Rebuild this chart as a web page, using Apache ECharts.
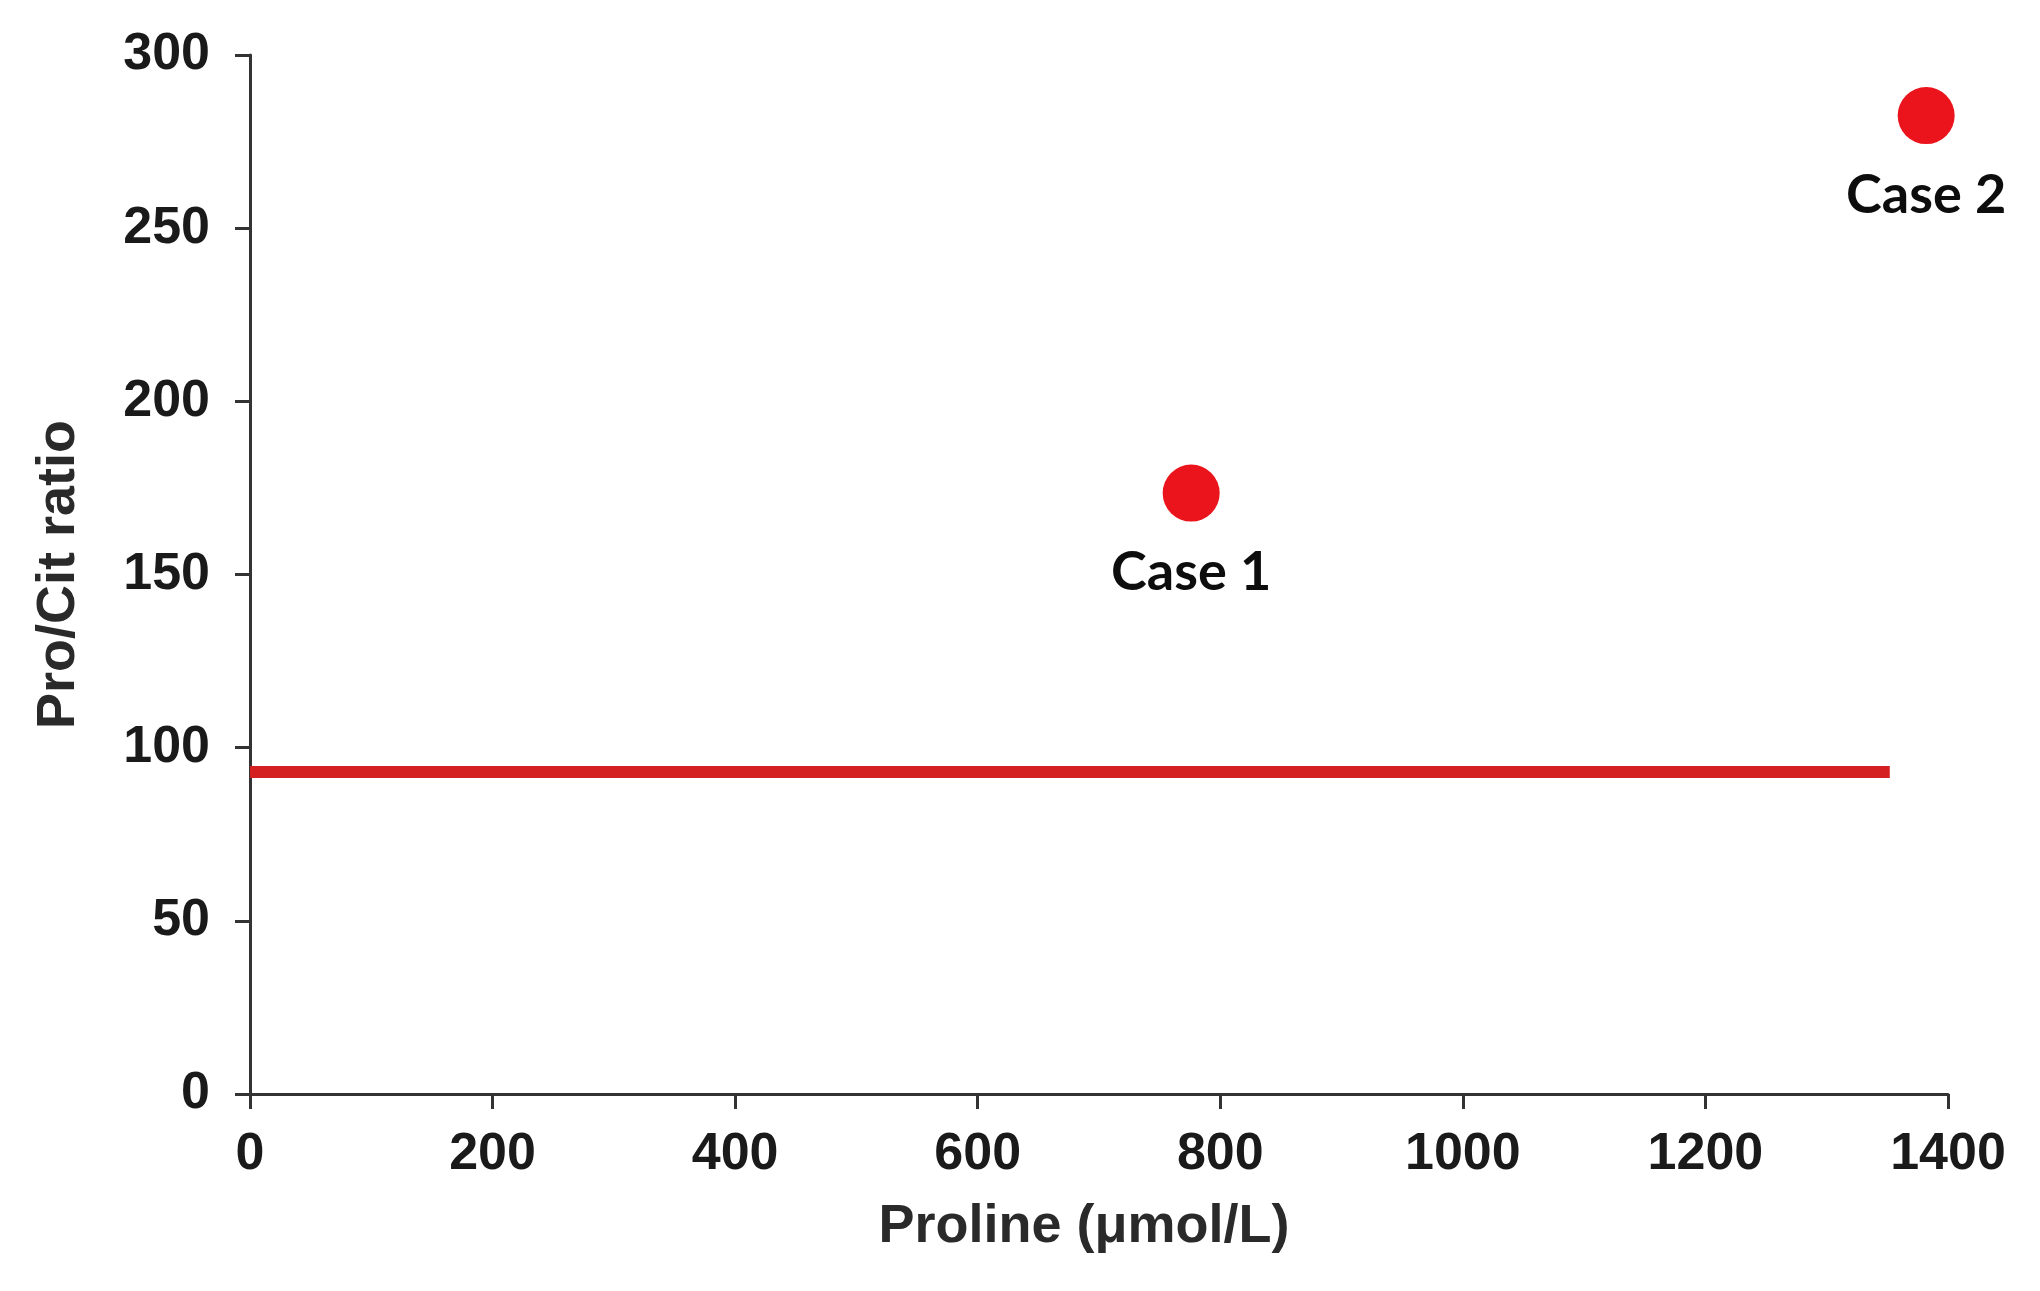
<!DOCTYPE html>
<html>
<head>
<meta charset="utf-8">
<script src="https://cdn.jsdelivr.net/npm/echarts@6/dist/echarts.min.js"></script>
<style>html,body{margin:0;padding:0;background:#fff;}#c{width:2040px;height:1291px;}</style>
</head>
<body>
<div id="c"></div>
<script>
const caseNames = ['Case 1', 'Case 2'];
const prolineValues = [776, 1382];
const ratioValues = [173.5, 282.5];
const cutoffRatio = 93;
const cutoffRange = [0, 1352];
const xTicks = [0, 200, 400, 600, 800, 1000, 1200, 1400];
const yTicks = [0, 50, 100, 150, 200, 250, 300];

const chart = echarts.init(document.getElementById('c'));
const tickFont = { fontFamily: 'Liberation Sans, Arial, sans-serif', fontSize: 52, fontWeight: 'bold', color: '#1a1a1a', formatter: v => String(v) };
chart.setOption({
  backgroundColor: '#fff',
  animation: false,
  grid: { left: 250, right: 92, top: 55, bottom: 197, containLabel: false },
  xAxis: {
    type: 'value', min: xTicks[0], max: xTicks[xTicks.length - 1], interval: 200,
    name: 'Proline (μmol/L)', nameLocation: 'middle', nameGap: 106,
    nameTextStyle: { fontFamily: 'Liberation Sans, Arial, sans-serif', fontSize: 54, fontWeight: 'bold', color: '#2a2a2a', padding: [0, 30, 0, 0] },
    axisLine: { show: true, onZero: false, lineStyle: { color: '#333', width: 3 } },
    axisTick: { show: true, inside: false, length: 15, lineStyle: { color: '#333', width: 3 } },
    axisLabel: Object.assign({ margin: 35 }, tickFont),
    splitLine: { show: false }
  },
  yAxis: {
    type: 'value', min: yTicks[0], max: yTicks[yTicks.length - 1], interval: 50,
    name: 'Pro/Cit ratio', nameLocation: 'middle', nameGap: 164, nameRotate: 90,
    nameTextStyle: { fontFamily: 'Liberation Sans, Arial, sans-serif', fontSize: 54, fontWeight: 'bold', color: '#2a2a2a' },
    axisLine: { show: true, onZero: false, lineStyle: { color: '#333', width: 3 } },
    axisTick: { show: true, inside: false, length: 15, lineStyle: { color: '#333', width: 3 } },
    axisLabel: Object.assign({ margin: 40 }, tickFont),
    splitLine: { show: false }
  },
  series: [
    {
      type: 'line',
      data: cutoffRange.map(x => [x, cutoffRatio]),
      symbol: 'none',
      lineStyle: { color: '#d42020', width: 12, cap: 'butt' },
      z: 2
    },
    {
      type: 'scatter',
      data: prolineValues.map((x, i) => ({ value: [x, ratioValues[i]], name: caseNames[i] })),
      symbolSize: 57,
      itemStyle: { color: '#ec141c', opacity: 1 },
      label: {
        show: true, position: 'bottom', distance: 24,
        formatter: p => p.name,
        fontFamily: 'Lato, "Open Sans", sans-serif', fontWeight: 'bold', fontSize: 54, color: '#0d0d0d'
      },
      z: 3
    }
  ]
});
</script>
</body>
</html>
